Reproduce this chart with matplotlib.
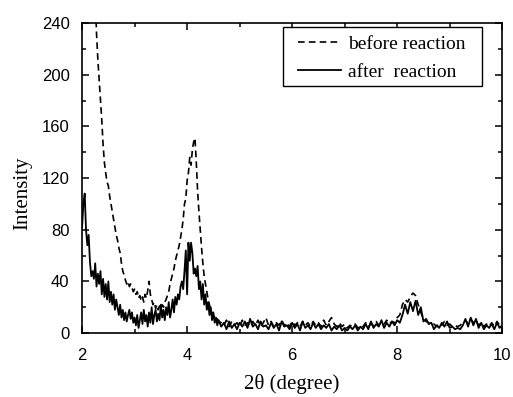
import numpy as np
import matplotlib
matplotlib.use("Agg")
import matplotlib.pyplot as plt
from matplotlib.ticker import MultipleLocator
from matplotlib.patches import Rectangle

# 2theta grid, fine steps near the low-angle peaks, coarser after
x_a = [2.000, 2.025, 2.050, 2.075, 2.100, 2.125, 2.150, 2.175, 2.200, 2.225,
       2.250, 2.275, 2.300, 2.325, 2.350, 2.375, 2.400, 2.425, 2.450, 2.475,
       2.500, 2.525, 2.550, 2.575, 2.600, 2.625, 2.650, 2.675, 2.700, 2.725,
       2.750, 2.775, 2.800, 2.825, 2.850, 2.875, 2.900, 2.925, 2.950, 2.975,
       3.000, 3.025, 3.050, 3.075, 3.100, 3.125, 3.150, 3.175, 3.200, 3.225,
       3.250, 3.275, 3.300, 3.325, 3.350, 3.375, 3.400, 3.425, 3.450, 3.475,
       3.500, 3.525, 3.550, 3.575, 3.600, 3.625, 3.650, 3.675, 3.700, 3.725,
       3.750, 3.775, 3.800, 3.825, 3.850, 3.875, 3.900, 3.925, 3.950, 3.975,
       4.000, 4.025, 4.050, 4.075, 4.100, 4.125, 4.150, 4.175, 4.200, 4.225,
       4.250, 4.275, 4.300, 4.325, 4.350, 4.375, 4.400, 4.425, 4.450, 4.475,
       4.500, 4.525, 4.550, 4.575, 4.600]
x_b = [4.65, 4.70, 4.75, 4.80, 4.85, 4.90, 4.95, 5.00, 5.05, 5.10,
       5.15, 5.20, 5.25, 5.30, 5.35, 5.40, 5.45, 5.50, 5.55, 5.60,
       5.65, 5.70, 5.75, 5.80, 5.85, 5.90, 5.95, 6.00, 6.05, 6.10,
       6.15, 6.20, 6.25, 6.30, 6.35, 6.40, 6.45, 6.50, 6.55, 6.60,
       6.65, 6.70, 6.75, 6.80, 6.85, 6.90, 6.95, 7.00, 7.05, 7.10,
       7.15, 7.20, 7.25, 7.30, 7.35, 7.40, 7.45, 7.50, 7.55, 7.60,
       7.65, 7.70, 7.75, 7.80, 7.85, 7.90, 7.95, 8.00, 8.05, 8.10,
       8.15, 8.20, 8.25, 8.30, 8.35, 8.40, 8.45, 8.50, 8.55, 8.60,
       8.65, 8.70, 8.75, 8.80, 8.85, 8.90, 8.95, 9.00, 9.05, 9.10,
       9.15, 9.20, 9.25, 9.30, 9.35, 9.40, 9.45, 9.50, 9.55, 9.60,
       9.65, 9.70, 9.75, 9.80, 9.85, 9.90, 9.95, 10.00]

before_a = [np.nan, np.nan, np.nan, np.nan, np.nan, np.nan, np.nan, np.nan, np.nan, 300,
            262, 232, 212, 196, 179, 165, 146, 132, 124, 117,
            114, 106, 100, 94, 88, 82, 76, 72, 66, 62,
            54, 48, 45, 41, 38, 40, 36, 38, 35, 32,
            34, 30, 32, 27, 29, 25, 28, 24, 30, 27,
            33, 40, 30, 26, 22, 24, 19, 22, 18, 21,
            19, 22, 20, 24, 26, 29, 32, 38, 42, 46,
            50, 56, 60, 64, 68, 74, 80, 88, 100, 104,
            118, 124, 136, 130, 142, 148, 151, 132, 110, 94,
            80, 66, 54, 44, 38, 32, 26, 22, 18, 16,
            14, 12, 10, 11, 9]
before_b = [8, 6, 10, 5, 9, 6, 8, 5, 10, 6,
            8, 5, 9, 6, 10, 5, 8, 12, 6, 9,
            5, 8, 6, 10, 6, 8, 5, 9, 6, 8,
            5, 9, 6, 8, 5, 9, 6, 8, 5, 10,
            6, 9, 12, 7, 5, 8, 5, 7, 4, 6,
            5, 7, 4, 6, 5, 8, 5, 7, 6, 9,
            6, 8, 7, 10, 7, 9, 8, 12, 14, 22,
            26, 24, 28, 31, 29, 22, 16, 11, 9, 8,
            6, 7, 5, 8, 6, 9, 6, 7, 5, 6,
            5, 6, 8, 10, 7, 11, 8, 10, 6, 8,
            5, 7, 5, 8, 5, 9, 6, 7]

after_a = [82, 100, 108, 80, 68, 76, 55, 44, 48, 42,
           54, 36, 46, 38, 48, 30, 42, 28, 38, 26,
           40, 24, 32, 22, 30, 18, 26, 20, 14, 22,
           12, 18, 10, 16, 9, 14, 18, 11, 16, 8,
           12, 6, 14, 4, 10, 16, 7, 18, 9, 14,
           5, 16, 8, 20, 7, 14, 18, 9, 15, 10,
           22, 12, 18, 10, 20, 14, 24, 12, 18, 26,
           16, 28, 22, 30, 26, 36, 40, 34, 48, 64,
           30, 70, 56, 70, 62, 46, 50, 44, 52, 34,
           40, 26, 38, 22, 30, 18, 24, 14, 20, 10,
           16, 8, 12, 6, 10]
after_b = [5, 8, 3, 9, 4, 7, 3, 8, 5, 9,
           4, 11, 5, 7, 3, 9, 5, 6, 3, 8,
           4, 7, 2, 9, 5, 6, 3, 8, 4, 7,
           2, 9, 4, 6, 3, 8, 4, 7, 3, 6,
           4, 7, 2, 5, 3, 6, 2, 4, 2, 5,
           3, 6, 2, 5, 3, 7, 3, 9, 4, 7,
           5, 10, 4, 8, 5, 9, 6, 10, 8, 14,
           22, 15, 24, 17, 25, 14, 20, 9, 11, 7,
           8, 3, 6, 4, 8, 5, 9, 4, 5, 3,
           4, 3, 6, 11, 5, 12, 6, 11, 4, 8,
           3, 6, 4, 7, 3, 8, 4, 6]

x = x_a + x_b
before = before_a + before_b
after = after_a + after_b

serif = "Liberation Serif"
sans = "Liberation Sans"

fig = plt.figure(figsize=(5.13, 3.97), dpi=100)
ax = fig.add_axes([0.160, 0.161, 0.819, 0.781])

ax.plot(x, before, color="black", lw=1.2, linestyle=(0, (4, 2.5)), label="before reaction")
ax.plot(x, after, color="black", lw=1.3, linestyle="solid", label="after  reaction")

ax.set_xlim(2, 10)
ax.set_ylim(0, 240)
ax.xaxis.set_major_locator(MultipleLocator(2))
ax.xaxis.set_minor_locator(MultipleLocator(1))
ax.yaxis.set_major_locator(MultipleLocator(40))
ax.yaxis.set_minor_locator(MultipleLocator(20))
ax.tick_params(which="both", direction="in", top=True, right=True, width=1.1)
ax.tick_params(which="major", length=5)
ax.tick_params(which="minor", length=3)
ax.tick_params(axis="x", pad=11)
ax.tick_params(axis="y", pad=9)
for lab in ax.get_xticklabels() + ax.get_yticklabels():
    lab.set_fontfamily(sans)
    lab.set_fontsize(12)
for sp in ax.spines.values():
    sp.set_linewidth(1.2)

ax.set_xlabel("2θ (degree)", fontfamily=serif, fontsize=15, labelpad=8)
ax.set_ylabel("Intensity", fontfamily=serif, fontsize=15)
ax.yaxis.set_label_coords(-0.118, 0.45)

# legend box is wider than the entries (more side padding than matplotlib gives), so frame drawn separately
ax.add_patch(Rectangle((0.479, 0.797), 0.473, 0.190, transform=ax.transAxes,
                       fill=True, facecolor="white", edgecolor="black", lw=1.0, zorder=4))
leg = ax.legend(loc="upper left", bbox_to_anchor=(0.514, 0.961), prop={"family": serif, "size": 14},
                frameon=False, handlelength=2.23, handletextpad=0.34, borderpad=0.0,
                labelspacing=0.56, borderaxespad=0.0)
leg.set_zorder(5)

fig.savefig("out.png", dpi=100)
